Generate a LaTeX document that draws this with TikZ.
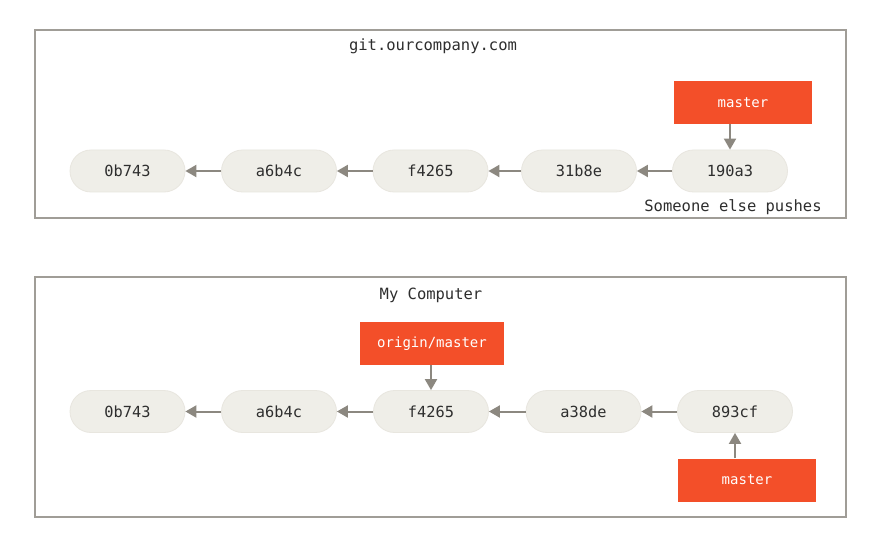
\documentclass[tikz,border=0pt]{standalone}
\usepackage{fontspec}
\setmonofont{DejaVu Sans Mono}
\usetikzlibrary{arrows.meta}
\definecolor{gred}{HTML}{F34F29}
\definecolor{pillfill}{HTML}{EFEEE8}
\definecolor{pillline}{HTML}{E8E6DF}
\definecolor{arrgray}{HTML}{8C8880}
\definecolor{framegray}{HTML}{A09D97}
\definecolor{txt}{HTML}{2E2E2E}
\tikzset{
  frame/.style={draw=framegray, line width=1.5pt, fill=white, inner sep=0pt},
  commit/.style={fill=pillfill, draw=pillline, line width=0.8pt, rounded corners=21pt,
    minimum width=115pt, minimum height=42pt, inner sep=0pt, text=txt,
    font=\ttfamily\fontsize{15.3}{18}\selectfont},
  branch/.style={fill=gred, draw=none, text=white, minimum width=137.5pt,
    minimum height=43pt, inner sep=0pt, font=\ttfamily\fontsize{14}{17}\selectfont},
  label/.style={text=txt, inner sep=0pt, font=\ttfamily\fontsize{15.5}{18}\selectfont},
  arr/.style={draw=arrgray, line width=2pt, -{Triangle[length=11pt,width=12pt]}, arrgray}
}
\begin{document}
\begin{tikzpicture}[x=1pt,y=-1pt]
\useasboundingbox (0,0) rectangle (885,537);
% frames
\node[frame, minimum width=811pt, minimum height=188pt] (srv) at (440.5,124) {};
\node[frame, minimum width=811pt, minimum height=240pt] (pc) at (440.5,397) {};
% labels
\node[label] (srvlabel) at (433,46) {git.ourcompany.com};
\node[label] (pclabel) at (431,295) {My Computer};
\node[label] (push) at (733,207) {Someone else pushes};
% top commits
\node[commit] (t1) at (127.5,171) {0b743};
\node[commit] (t2) at (279,171) {a6b4c};
\node[commit] (t3) at (430.5,171) {f4265};
\node[commit] (t4) at (579,171) {31b8e};
\node[commit] (t5) at (730,171) {190a3};
\node[branch] (tm) at (743,102.5) {master};
% bottom commits
\node[commit] (b1) at (127.5,411.5) {0b743};
\node[commit] (b2) at (279,411.5) {a6b4c};
\node[commit] (b3) at (431,411.5) {f4265};
\node[commit] (b4) at (583.5,411.5) {a38de};
\node[commit] (b5) at (735,411.5) {893cf};
\node[branch, minimum width=144pt] (om) at (432,343.3) {origin/master};
\node[branch] (bm) at (747,480) {master};
% arrows
\draw[arr] (t2.west) -- (t1.east);
\draw[arr] (t3.west) -- (t2.east);
\draw[arr] (t4.west) -- (t3.east);
\draw[arr] (t5.west) -- (t4.east);
\draw[arr] (tm.south -| t5.north) -- (t5.north);
\draw[arr] (b2.west) -- (b1.east);
\draw[arr] (b3.west) -- (b2.east);
\draw[arr] (b4.west) -- (b3.east);
\draw[arr] (b5.west) -- (b4.east);
\draw[arr] (om.south -| b3.north) -- (b3.north);
\draw[arr] (bm.north -| b5.south) -- (b5.south);
\end{tikzpicture}
\end{document}
